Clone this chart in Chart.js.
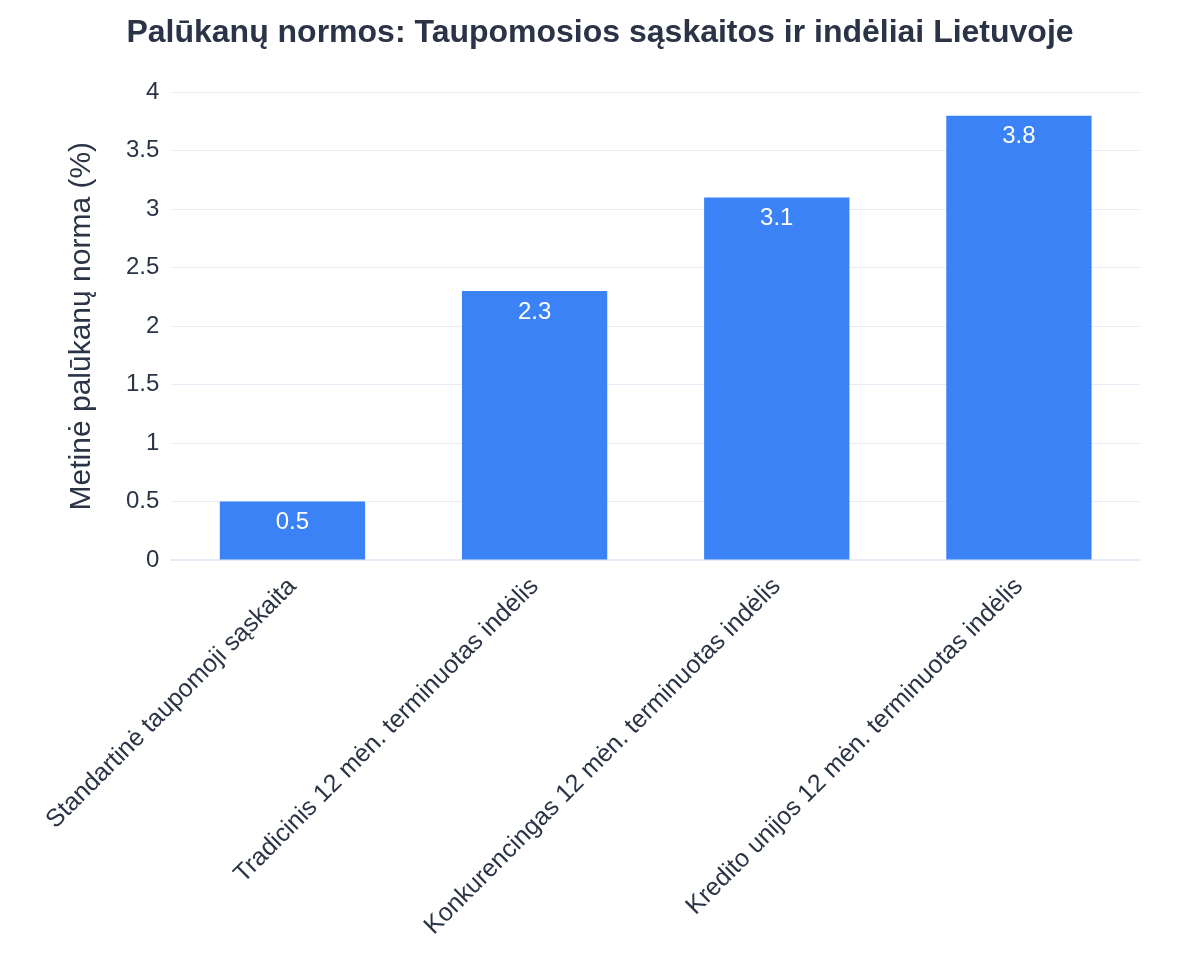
<!DOCTYPE html>
<html><head><meta charset="utf-8">
<script src="https://cdn.jsdelivr.net/npm/chart.js@4"></script>
<style>html,body{margin:0;padding:0;background:#fff}#wrap{width:1200px;height:975px}</style>
</head><body><div id="wrap"><canvas id="c" width="1200" height="975"></canvas></div>
<script>
const categories = ["Standartinė taupomoji sąskaita","Tradicinis 12 mėn. terminuotas indėlis","Konkurencingas 12 mėn. terminuotas indėlis","Kredito unijos 12 mėn. terminuotas indėlis"];
const rates = [0.5, 2.3, 3.1, 3.8];
const yTicks = [0,0.5,1,1.5,2,2.5,3,3.5,4];
const FONT = "'Liberation Sans', Arial, sans-serif";
const TXT = '#2a3446';

const labelPlugin = {
  id: 'inlabels',
  afterDatasetsDraw(chart){
    const ctx = chart.ctx;
    const meta = chart.getDatasetMeta(0);
    ctx.save();
    ctx.font = '24px ' + FONT;
    ctx.fillStyle = '#fff';
    ctx.textAlign = 'center';
    ctx.textBaseline = 'top';
    meta.data.forEach((bar, i) => {
      ctx.fillText(String(rates[i]), bar.x, bar.y + 9);
    });
    ctx.restore();
  }
};

new Chart(document.getElementById('c'), {
  type: 'bar',
  data: { labels: categories, datasets: [{ data: rates, backgroundColor: '#3b82f6', categoryPercentage: 1, barPercentage: 0.6 }] },
  options: {
    responsive: false, animation: false,
    layout: { padding: { left: 60, right: 60, top: 0, bottom: 30 } },
    plugins: {
      legend: { display: false }, tooltip: { enabled: false },
      title: { display: true, text: 'Palūkanų normos: Taupomosios sąskaitos ir indėliai Lietuvoje',
        font: { family: FONT, size: 32, weight: 'bold' }, color: TXT, padding: { top: 14, bottom: 40 } }
    },
    scales: {
      x: {
        grid: { display: false },
        border: { color: '#e5ecf6', width: 2 },
        ticks: { color: TXT, font: { family: FONT, size: 25 }, maxRotation: 45, minRotation: 45, padding: 4 }
      },
      y: {
        min: 0, max: 4,
        afterBuildTicks: (s) => { s.ticks = yTicks.map(v => ({ value: v })); },
        grid: { color: '#e5ecf6', drawTicks: false },
        border: { display: false },
        ticks: { color: TXT, font: { family: FONT, size: 24 }, padding: 12, callback: v => String(v) },
        title: { display: true, text: 'Metinė palūkanų norma (%)', color: TXT, font: { family: FONT, size: 30 }, padding: { bottom: 14 } }
      }
    }
  },
  plugins: [labelPlugin]
});
</script></body></html>
